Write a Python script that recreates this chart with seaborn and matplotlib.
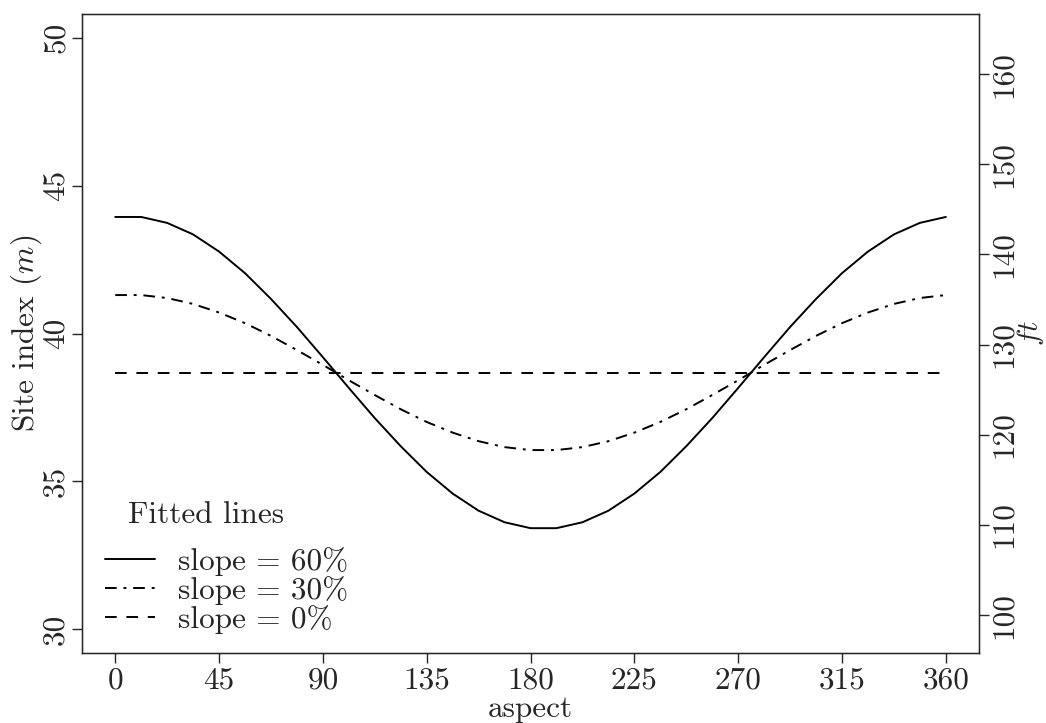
import pandas as pd
import matplotlib.pyplot as plt
import seaborn as sns

# --- DATA ---
aspect = [0, 11.25, 22.5, 33.75, 45, 56.25, 67.5, 78.75, 90, 101.25, 112.5, 123.75,
          135, 146.25, 157.5, 168.75, 180, 191.25, 202.5, 213.75, 225, 236.25, 247.5,
          258.75, 270, 281.25, 292.5, 303.75, 315, 326.25, 337.5, 348.75, 360]
slope60 = [43.94, 43.94, 43.74, 43.35, 42.77, 42.04, 41.17, 40.22, 39.20, 38.16, 37.14,
           36.19, 35.32, 34.59, 34.01, 33.62, 33.42, 33.42, 33.62, 34.01, 34.59, 35.32,
           36.19, 37.14, 38.16, 39.20, 40.22, 41.17, 42.04, 42.77, 43.35, 43.74, 43.94]
slope30 = [41.30, 41.30, 41.20, 41.00, 40.71, 40.35, 39.92, 39.44, 38.94, 38.42, 37.92,
           37.44, 37.01, 36.65, 36.36, 36.16, 36.06, 36.06, 36.16, 36.36, 36.65, 37.01,
           37.44, 37.92, 38.42, 38.94, 39.44, 39.92, 40.35, 40.71, 41.00, 41.20, 41.30]
slope0 = [38.68] * len(aspect)

labels = ['slope = 60%', 'slope = 30%', 'slope = 0%']
x_ticks = [0, 45, 90, 135, 180, 225, 270, 315, 360]
m_ticks = [30, 35, 40, 45, 50]
ft_ticks = [100, 110, 120, 130, 140, 150, 160]
M_TO_FT = 3.28084

df = pd.concat([
    pd.DataFrame({'aspect': aspect, 'si': s, 'fit': lab})
    for s, lab in zip([slope60, slope30, slope0], labels)
])

# --- PLOT ---
sns.set_style('ticks')
plt.rcParams['mathtext.fontset'] = 'cm'
plt.rcParams['font.family'] = ['cmr10', 'DejaVu Serif']
plt.rcParams['axes.unicode_minus'] = False
FS = 22.5

fig = plt.figure(figsize=(10.46, 7.23), dpi=100)
ax = fig.add_axes([0.0784, 0.0968, 0.8576, 0.8838])

dashes = {labels[0]: '', labels[1]: (6, 3.5, 1.5, 3.5), labels[2]: (6, 5)}
sns.lineplot(data=df, x='aspect', y='si', style='fit', style_order=labels,
             dashes=dashes, color='black', linewidth=1.4, ax=ax, legend=True)

ax.set_xlim(-14.4, 374.4)
ax.set_ylim(29.2, 50.8)
ax.set_xticks(x_ticks)
ax.set_xticklabels([str(v) for v in x_ticks])
ax.set_yticks(m_ticks)
ax.set_yticklabels([str(v) for v in m_ticks], rotation=90, va='center')
ax.tick_params(direction='out', length=7, width=1, labelsize=FS, pad=3)
ax.tick_params(axis='y', pad=2)
ax.set_xlabel('aspect', fontsize=FS, labelpad=0)
ax.set_ylabel('Site index ($m$)', fontsize=FS, labelpad=-2)
for sp in ax.spines.values():
    sp.set_linewidth(1.0)
    sp.set_color('black')

ax2 = ax.twinx()
ax2.set_ylim(29.2 * M_TO_FT, 50.8 * M_TO_FT)
ax2.set_yticks(ft_ticks)
ax2.set_yticklabels([str(v) for v in ft_ticks], rotation=90, va='center')
ax2.tick_params(direction='out', length=7, width=1, labelsize=FS, pad=0.5)
ax2.set_ylabel('$ft$', fontsize=21, labelpad=-1.5)

handles, labs = ax.get_legend_handles_labels()
ax.legend(handles, labs, loc='lower left', bbox_to_anchor=(0.0256, 0.03),
          frameon=False, fontsize=FS, handlelength=1.6, labelspacing=0.0,
          handletextpad=0.75, borderpad=0, borderaxespad=0)
ax.text(0.0515, 0.216, 'Fitted lines', transform=ax.transAxes, fontsize=FS,
        ha='left', va='center')

plt.savefig('out.png', dpi=100)
